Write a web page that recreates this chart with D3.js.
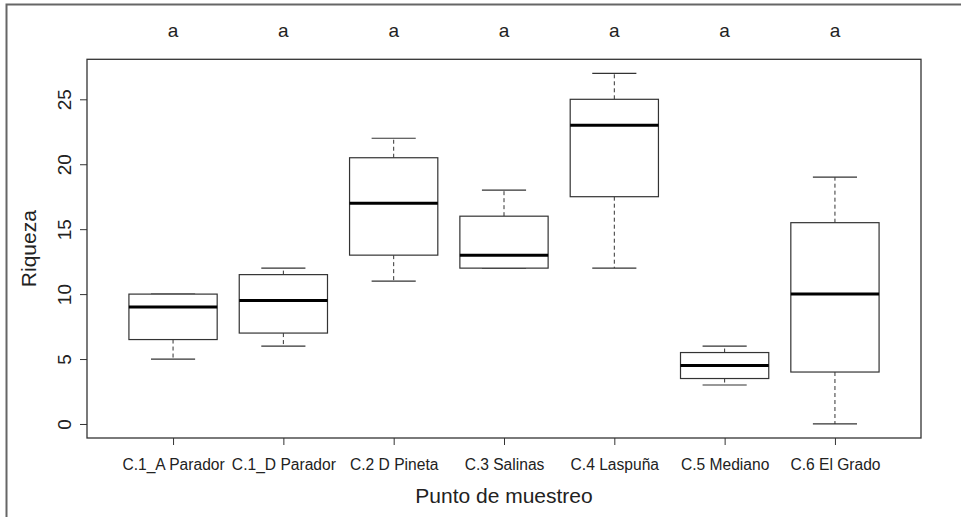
<!DOCTYPE html>
<html>
<head>
<meta charset="utf-8">
<script src="https://cdn.jsdelivr.net/npm/d3@7"></script>
<style>
  body { margin: 0; background: #fff; }
  text { font-family: "Liberation Sans", Arial, Helvetica, sans-serif; fill: #222; }
</style>
</head>
<body>
<svg id="chart" width="961" height="517"></svg>
<script>
// box statistics
const sites = ['C.1_A Parador', 'C.1_D Parador', 'C.2 D Pineta', 'C.3 Salinas', 'C.4 Laspuña', 'C.5 Mediano', 'C.6 El Grado']
const whiskerLow = [5, 6, 11, 12, 12, 3, 0]
const q1 = [6.5, 7, 13, 12, 17.5, 3.5, 4]
const median = [9, 9.5, 17, 13, 23, 4.5, 10]
const q3 = [10, 11.5, 20.5, 16, 25, 5.5, 15.5]
const whiskerHigh = [10, 12, 22, 18, 27, 6, 19]
const groupLetters = ['a', 'a', 'a', 'a', 'a', 'a', 'a']
const yTicks = [0, 5, 10, 15, 20, 25]

const data = sites.map((s, i) => ({
	site: s, pos: i + 1,
	lo: whiskerLow[i], q1: q1[i], med: median[i], q3: q3[i], hi: whiskerHigh[i],
	letter: groupLetters[i]
}))

const svg = d3.select('#chart')

const margin = {top: 59.3, right: 40, bottom: 79, left: 87}
const plotRight = 921

// outer frame of the figure
svg.append('rect')
	.attr('x', 6.5).attr('y', 4.5)
	.attr('width', 1000).attr('height', 600)
	.attr('fill', 'none')
	.attr('stroke', '#666')
	.attr('stroke-width', 2)

const x = d3.scaleLinear()
	.domain([0.22, sites.length + 0.78])
	.range([margin.left, plotRight])

const y = d3.scaleLinear()
	.domain([-1.08, 28.08])
	.range([438, margin.top])

// boxes
const boxes = svg.append('g').selectAll('g')
	.data(data)
	.enter().append('g')

boxes.append('line')
	.attr('x1', d => x(d.pos)).attr('x2', d => x(d.pos))
	.attr('y1', d => y(d.q3)).attr('y2', d => y(d.hi))
	.attr('stroke', '#333').attr('stroke-dasharray', '4,3')

boxes.append('line')
	.attr('x1', d => x(d.pos)).attr('x2', d => x(d.pos))
	.attr('y1', d => y(d.q1)).attr('y2', d => y(d.lo))
	.attr('stroke', '#333').attr('stroke-dasharray', '4,3')

boxes.append('line')
	.attr('x1', d => x(d.pos - 0.2)).attr('x2', d => x(d.pos + 0.2))
	.attr('y1', d => y(d.hi)).attr('y2', d => y(d.hi))
	.attr('stroke', '#333').attr('stroke-width', 1.2)

boxes.append('line')
	.attr('x1', d => x(d.pos - 0.2)).attr('x2', d => x(d.pos + 0.2))
	.attr('y1', d => y(d.lo)).attr('y2', d => y(d.lo))
	.attr('stroke', '#333').attr('stroke-width', 1.2)

boxes.append('rect')
	.attr('x', d => x(d.pos - 0.4))
	.attr('width', d => x(d.pos + 0.4) - x(d.pos - 0.4))
	.attr('y', d => y(d.q3))
	.attr('height', d => y(d.q1) - y(d.q3))
	.attr('fill', '#fff')
	.attr('stroke', '#333')
	.attr('stroke-width', 1.2)

boxes.append('line')
	.attr('x1', d => x(d.pos - 0.4)).attr('x2', d => x(d.pos + 0.4))
	.attr('y1', d => y(d.med)).attr('y2', d => y(d.med))
	.attr('stroke', '#000').attr('stroke-width', 3)

// plot box
svg.append('rect')
	.attr('x', margin.left).attr('y', margin.top)
	.attr('width', plotRight - margin.left)
	.attr('height', 438 - margin.top)
	.attr('fill', 'none')
	.attr('stroke', '#333')
	.attr('stroke-width', 1.3)

// axes
const xAxis = d3.axisBottom(x)
	.tickValues(data.map(d => d.pos))
	.tickFormat(p => sites[p - 1])
	.tickSize(7)

const xAxisG = svg.append('g')
	.attr('transform', `translate(0, 438)`)
	.call(xAxis)
xAxisG.select('.domain').remove()
xAxisG.selectAll('line').attr('stroke', '#333')
xAxisG.selectAll('text')
	.attr('y', 32).attr('dy', 0)
	.style('font-size', '15.6px')
	.style('font-family', '"Liberation Sans", Arial, sans-serif')
	.attr('fill', '#222')

const yAxis = d3.axisLeft(y)
	.tickValues(yTicks)
	.tickSize(7)

const yAxisG = svg.append('g')
	.attr('transform', `translate(${margin.left}, 0)`)
	.call(yAxis)
yAxisG.select('.domain').remove()
yAxisG.selectAll('line').attr('stroke', '#333')
yAxisG.selectAll('text')
	.attr('x', 0).attr('dy', 0)
	.attr('transform', 'translate(-16, 0) rotate(-90)')
	.attr('text-anchor', 'middle')
	.style('font-size', '19px')
	.style('font-family', '"Liberation Sans", Arial, sans-serif')
	.attr('fill', '#222')

// group letters above the boxes
svg.append('g').selectAll('text')
	.data(data)
	.enter().append('text')
	.text(d => d.letter)
	.attr('x', d => x(d.pos))
	.attr('y', 37)
	.attr('text-anchor', 'middle')
	.style('font-size', '19px')

// axis titles
svg.append('text')
	.text('Punto de muestreo')
	.attr('x', (margin.left + plotRight) / 2)
	.attr('y', 503)
	.attr('text-anchor', 'middle')
	.style('font-size', '21px')

svg.append('text')
	.text('Riqueza')
	.attr('transform', `translate(36, ${(margin.top + 438) / 2}) rotate(-90)`)
	.attr('text-anchor', 'middle')
	.style('font-size', '21px')
</script>
</body>
</html>
